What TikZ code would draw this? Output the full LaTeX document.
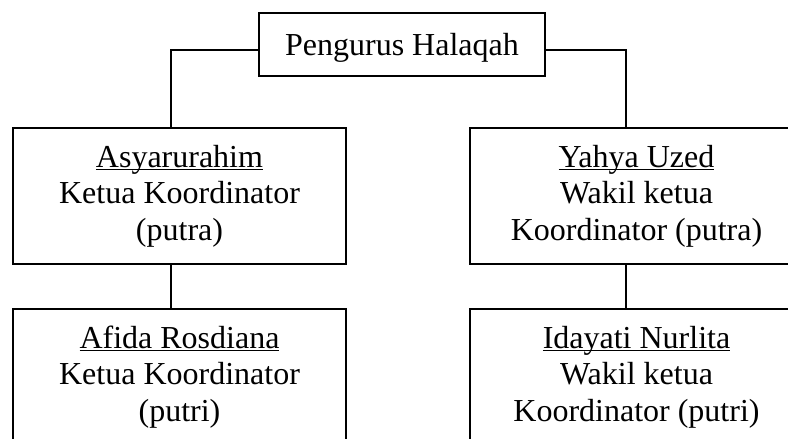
\documentclass[tikz,border=0pt]{standalone}
\usepackage{fontspec}
\setmainfont{Liberation Serif}
\newcommand\myul[1]{\setbox0\hbox{#1}\rlap{\rule[-3pt]{\wd0}{1.4pt}}\box0}
\tikzset{
  box/.style={draw, line width=1.2pt, inner sep=0pt, align=center,
    minimum width=333pt, minimum height=136pt,
    font=\fontsize{32}{36.6}\selectfont},
  topbox/.style={box, minimum width=286pt, minimum height=63pt},
  link/.style={line width=1.2pt}
}
\begin{document}
\begin{tikzpicture}[x=1pt,y=1pt]
\useasboundingbox (0,0) rectangle (788,-439);
\clip (0,0) rectangle (788,-439);
\node[topbox] (top) at (402,-44.5) {\rule{0pt}{28pt}Pengurus Halaqah};
\node[box] (A) at (179.5,-196) {\myul{Asyarurahim}\\Ketua Koordinator\\(putra)};
\node[box] (B) at (179.5,-377) {\myul{Afida Rosdiana}\\Ketua Koordinator\\(putri)};
\node[box] (C) at (636.5,-196) {\myul{Yahya Uzed}\\Wakil ketua\\Koordinator (putra)};
\node[box] (D) at (636.5,-377) {\myul{Idayati Nurlita}\\Wakil ketua\\Koordinator (putri)};
\draw[link] ([yshift=-5.5pt]top.west) -| ([xshift=-8.5pt]A.north);
\draw[link] ([yshift=-5.5pt]top.east) -| ([xshift=-10.5pt]C.north);
\draw[link] ([xshift=-8.5pt]A.south) -- ([xshift=-8.5pt]B.north);
\draw[link] ([xshift=-10.5pt]C.south) -- ([xshift=-10.5pt]D.north);
\end{tikzpicture}
\end{document}
